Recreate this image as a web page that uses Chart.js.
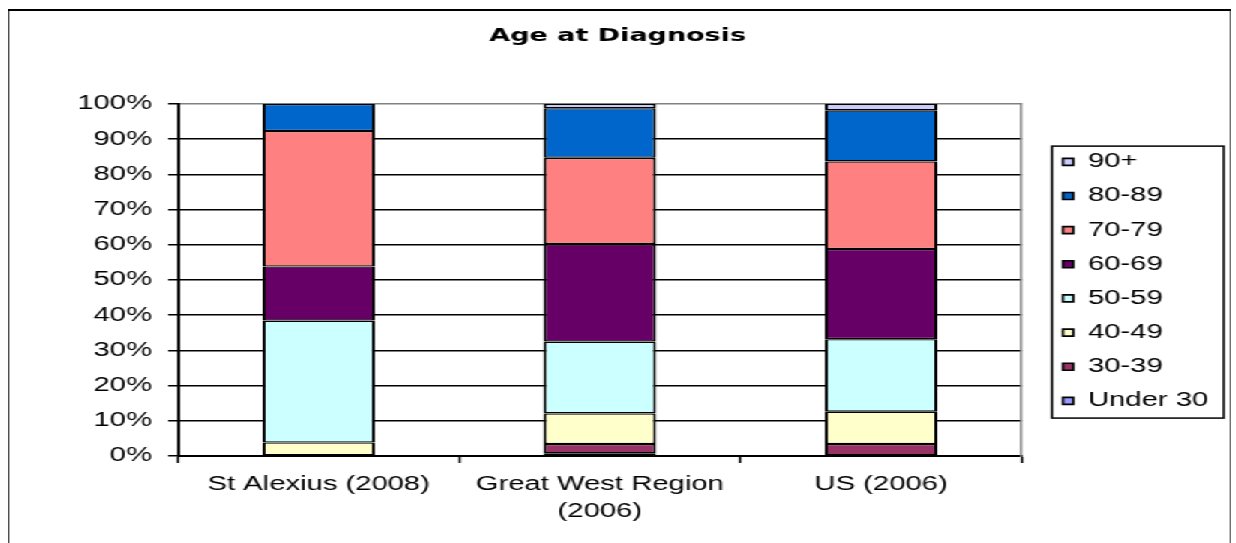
<!DOCTYPE html>
<html>
<head>
<meta charset="utf-8">
<script src="https://cdn.jsdelivr.net/npm/chart.js@4/dist/chart.umd.min.js"></script>
<style>
  html, body { margin: 0; padding: 0; background: #fff; overflow: hidden; }
  #stretch { position: absolute; left: 0; top: 0; width: 824px; height: 543px; transform: scaleX(1.5); transform-origin: 0 0; }
  #box { position: relative; width: 824px; height: 543px; }
  #frame { position: absolute; left: 5px; top: 9px; width: 816px; height: 600px; box-sizing: border-box;
           border-left: 1.5px solid #000; border-top: 2px solid #000; border-right: 1px solid #333; pointer-events: none; }
</style>
</head>
<body>
<div id="stretch">
  <div id="box"><canvas id="c"></canvas></div>
  <div id="frame"></div>
</div>
<script>
// ---- data (percent of patients) ----
const categories = ['St Alexius (2008)', ['Great West Region', '(2006)'], 'US (2006)'];
const seriesNames = ['Under 30', '30-39', '40-49', '50-59', '60-69', '70-79', '80-89', '90+'];
const under30   = [0,     0.8,  0];
const age30to39 = [0,     2.6,  3.4];
const age40to49 = [3.85,  8.7,  9.2];
const age50to59 = [34.62, 20.4, 20.6];
const age60to69 = [15.38, 27.7, 25.6];
const age70to79 = [38.46, 24.5, 24.9];
const age80to89 = [7.69,  14.1, 14.5];
const age90plus = [0,     1.2,  1.8];
const seriesValues = [under30, age30to39, age40to49, age50to59, age60to69, age70to79, age80to89, age90plus];
const seriesColors = ['#9999FF', '#993366', '#FFFFCC', '#CCFFFF', '#660066', '#FF8080', '#0066CC', '#CCCCFF'];
const yTickValues = [0, 10, 20, 30, 40, 50, 60, 70, 80, 90, 100];

const FONT = "'Liberation Sans', Arial, sans-serif";

const legendFrame = {
  id: 'legendFrame',
  afterDraw(chart) {
    const lg = chart.legend;
    if (!lg || !lg.columnSizes) return;
    const pad = lg.options.labels.padding;
    const colH = lg.columnSizes[0].height;
    const y0 = (lg.top + pad + lg.bottom - colH) / 2;
    const ctx = chart.ctx;
    ctx.save();
    ctx.strokeStyle = '#000';
    ctx.lineWidth = 1.5;
    ctx.strokeRect(lg.left + 7.4, y0 - 6, 114.5, colH - pad + 13.5);
    ctx.restore();
  }
};

new Chart(document.getElementById('c'), {
  type: 'bar',
  data: {
    labels: categories,
    datasets: seriesNames.map((name, i) => ({
      label: name,
      data: seriesValues[i],
      backgroundColor: seriesColors[i],
      borderColor: '#000',
      borderWidth: { top: 1.3, bottom: 1.3, left: 2, right: 2 },
      borderSkipped: false,
      categoryPercentage: 1,
      barPercentage: 0.4
    }))
  },
  options: {
    responsive: true,
    maintainAspectRatio: false,
    animation: false,
    events: [],
    layout: { padding: { left: 8, right: 8.35, top: 19.7, bottom: 0 } },
    plugins: {
      title: {
        display: true,
        text: 'Age at Diagnosis',
        color: '#000',
        font: { family: "'DejaVu Sans', sans-serif", size: 18, weight: 'bold', lineHeight: 1.2 },
        padding: { top: 5.5, bottom: 57.2 }
      },
      legend: {
        position: 'right',
        reverse: true,
        labels: {
          color: '#000',
          font: { family: FONT, size: 19.5 },
          boxWidth: 7,
          boxHeight: 7,
          padding: 14.64
        }
      },
      tooltip: { enabled: false }
    },
    scales: {
      x: {
        stacked: true,
        grid: { offset: true, drawOnChartArea: false, drawTicks: true, tickLength: 7, tickColor: '#000', tickWidth: 1.5 },
        border: { color: '#000', width: 2 },
        ticks: { color: '#000', font: { family: FONT, size: 19.5, lineHeight: 1.35 }, padding: 8.8, maxRotation: 0, autoSkip: false },
        afterFit(scale) { scale.height = 87; }
      },
      y: {
        stacked: true,
        min: 0,
        max: 100,
        afterBuildTicks(scale) { scale.ticks = yTickValues.map(v => ({ value: v })); },
        grid: {
          color: (ctx) => (ctx.tick && ctx.tick.value === 100) ? '#808080' : '#000',
          lineWidth: 1.5,
          tickColor: '#000',
          tickLength: 6.7,
          drawTicks: true
        },
        border: { color: '#000', width: 2 },
        ticks: { color: '#000', font: { family: FONT, size: 19.5 }, padding: 10.7, callback: (v) => v + '%' },
        afterFit(scale) { scale.width = 110.7; }
      },
      y2: {
        type: 'linear',
        position: 'right',
        display: true,
        grid: { drawOnChartArea: false, drawTicks: false },
        border: { color: '#808080', width: 1.5 },
        ticks: { display: false },
        afterFit(scale) { scale.width = 12.8; }
      }
    }
  },
  plugins: [legendFrame]
});
</script>
</body>
</html>
